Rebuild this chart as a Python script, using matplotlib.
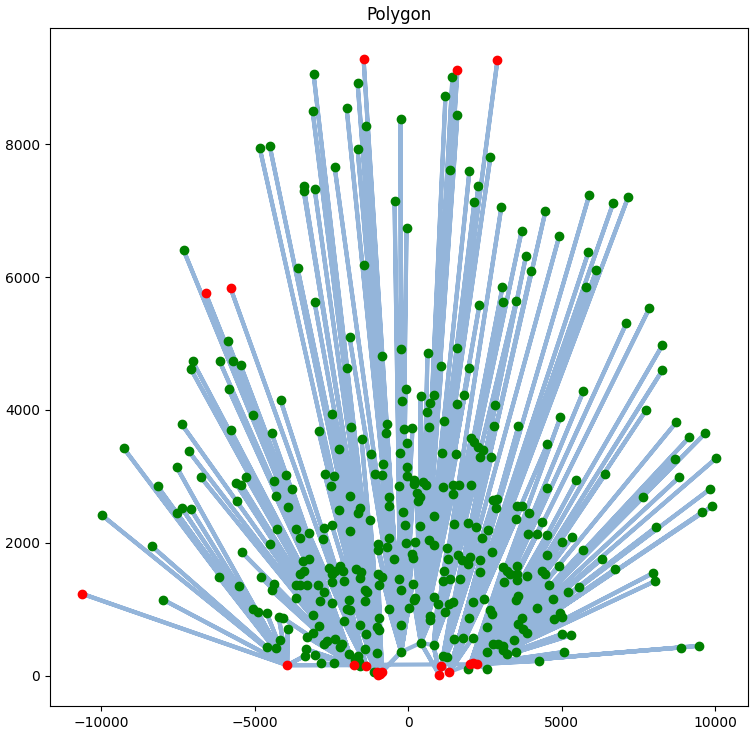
import numpy as np
import matplotlib.pyplot as plt

# vertices, grouped by where they sit (data units)
pts_top = [(-4843, 7952), (-4517, 7982), (-7318, 6403), (-3084, 9059), (-1651, 8929), (-3117, 8508),
           (-2009, 8553), (-1390, 8282), (-1651, 7937), (-2400, 7666), (-3410, 7370), (-3410, 7305),
           (-3052, 7335), (-251, 8387), (-446, 7154), (-55, 6748), (1443, 9018), (1215, 8733),
           (1606, 8448), (1378, 7620), (1997, 7605), (2681, 7816), (2290, 7380), (2160, 7139),
           (3039, 7064), (3700, 6703), (-1430, 6180), (3843, 6327), (4472, 6990), (4928, 6628),
           (5905, 7244), (5872, 6373), (6687, 7124), (7175, 7214)]

pts_left = [(-5885, 5034), (-7025, 4733), (-7090, 4622), (-6145, 4733), (-5722, 4742), (-5462, 4673),
            (-5852, 4312), (-4159, 4147), (-5071, 3921), (-5787, 3695), (-4452, 3650), (-7383, 3785),
            (-9273, 3424), (-7155, 3379), (-7546, 3139), (-6765, 2989), (-5287, 2989), (-5624, 2898),
            (-5439, 2873), (-8165, 2848), (-4387, 2928), (-3996, 3023), (-9989, 2417), (-7546, 2447),
            (-7383, 2522), (-7090, 2507), (-5592, 2622), (-4322, 2697), (-3931, 2537), (-8361, 1950),
            (-4289, 2206), (-4517, 1980), (-5429, 1860), (-6178, 1481), (-5527, 1346), (-4811, 1481),
            (-4387, 1384), (-4452, 1283), (-7990, 1143), (-5071, 1003), (-4908, 958), (-4615, 943),
            (-4224, 883), (-4094, 868), (-3931, 702), (-4192, 541), (-4615, 431), (-4322, 421)]

pts_center = [(-3605, 6132), (-3052, 5621), (-1912, 5094), (-870, 4808), (-251, 4914), (-2009, 4629),
              (629, 4857), (1085, 4659), (1606, 4929), (1997, 4629), (2322, 5585), (3071, 5846),
              (3104, 5621), (3517, 5636), (-87, 4312), (-186, 4136), (401, 4207), (706, 4101),
              (857, 4222), (597, 3966), (1606, 4086), (1834, 4222), (2843, 4071), (2811, 3755),
              (3593, 3755), (-2498, 3936), (-2922, 3680), (-1879, 3740), (-1521, 3560), (-707, 3790),
              (-739, 3650), (-153, 3710), (140, 3725), (694, 3740), (1182, 3830), (-23, 3500),
              (-283, 3350), (-2270, 3410), (-1228, 3335), (-837, 3184), (-1098, 3034), (-857, 3019),
              (-55, 3139), (-23, 3004), (205, 2944), (173, 2888), (498, 2913), (576, 2873),
              (1117, 3350), (1573, 3335), (2041, 3575), (2160, 3515), (2290, 3440), (2453, 3404),
              (2355, 3289), (2713, 3289), (-2726, 3034), (-2433, 3004), (-316, 2853), (1150, 2838),
              (1455, 2873), (1671, 2873), (2062, 2863), (-2531, 2853), (-3788, 2812)]

pts_right = [(4006, 6087), (6133, 6102), (5807, 5846), (7859, 5530), (7110, 5305), (8283, 4974),
             (8283, 4598), (5710, 4282), (7752, 3996), (4961, 3891), (8739, 3816), (9163, 3590),
             (9684, 3650), (8706, 3259), (10041, 3274), (4537, 3485), (8836, 2989), (6426, 3034),
             (5482, 2938), (4537, 2823), (9846, 2812), (7665, 2687), (9912, 2552), (9586, 2462),
             (8077, 2236), (3702, 2552), (3952, 2447), (4375, 2311), (3919, 2136), (4212, 2136),
             (4516, 2121), (5026, 2011), (5352, 2086), (5710, 1895), (4538, 1820), (6329, 1760),
             (6753, 1605), (4929, 1655), (3561, 1524), (3865, 1499), (4353, 1575), (4462, 1524),
             (4603, 1369), (5222, 1259), (5580, 1334), (7990, 1545), (8056, 1424), (4733, 1153),
             (4190, 1018), (3713, 868), (3756, 707), (3865, 642), (4951, 948), (5005, 883),
             (4755, 858), (3463, 532), (5026, 627), (5309, 607), (5092, 356), (4277, 221),
             (8892, 422), (9478, 447)]

pts_bottom = [(-1911, 2697), (-641, 2687), (-641, 2552), (282, 2748), (369, 2687), (304, 2627),
              (1455, 2738), (2780, 2647), (2888, 2662), (2866, 2527), (3540, 2547), (-2269, 2497),
              (-1585, 2527), (-1650, 2447), (-1238, 2347), (-174, 2467), (826, 2402), (1499, 2286),
              (1933, 2296), (2215, 2236), (2617, 2196), (3518, 2362), (-3648, 2211), (-3246, 2146),
              (-3539, 2076), (-2758, 2221), (-2486, 2261), (-2779, 2061), (-1889, 2181), (-641, 2076),
              (-119, 2271), (369, 2251), (-999, 1976), (-988, 1895), (-695, 1936), (-87, 1996),
              (206, 2011), (662, 2046), (826, 1971), (1260, 1920), (2410, 2076), (2736, 1860),
              (-478, 1760), (120, 1835), (141, 1770), (1607, 1820), (1281, 1760), (1748, 1735),
              (2020, 1785), (1933, 1675), (2345, 1735), (3084, 1635), (3214, 1575), (3322, 1535),
              (3561, 1645), (-3431, 1725), (-3246, 1755), (-3539, 1534), (-3409, 1575), (-2595, 1620),
              (-2378, 1575), (-2236, 1645), (-2128, 1575), (-2486, 1534), (-1694, 1610), (-1542, 1560),
              (-1563, 1474), (-999, 1534), (-858, 1484), (-966, 1359), (-315, 1459), (141, 1374),
              (-239, 1294), (1173, 1575), (1347, 1459), (1129, 1424), (1694, 1459), (2324, 1560),
              (3127, 1409), (3540, 1434), (-3648, 1359), (-3518, 1359), (-3300, 1359), (-2953, 1369),
              (-2758, 1259), (-2486, 1409), (-2106, 1424), (-1422, 1294), (-1346, 1259), (-3648, 1169),
              (-2866, 1123), (-2486, 1098), (-1943, 1143), (-1422, 1123), (-641, 1008), (11, 1023),
              (174, 1143), (228, 1174), (826, 1184), (956, 1083), (1205, 958), (1314, 1073),
              (1455, 1103), (2128, 1108), (2475, 1159), (2671, 983), (2725, 923), (3518, 1134),
              (3594, 1194), (-3116, 908), (-1998, 1008), (-1889, 993), (-2106, 818), (-966, 873),
              (-1585, 757), (-1020, 732), (-944, 682), (-239, 757), (695, 898), (717, 833),
              (1987, 873), (2584, 732), (3594, 782), (-3300, 582), (-3116, 647), (-2920, 742),
              (-2736, 472), (-2649, 522), (-2378, 557), (-2236, 432), (-2161, 472), (-1368, 632),
              (-1400, 402), (-1943, 331), (-1650, 301), (-1726, 231), (-1020, 341), (1499, 557),
              (1781, 572), (2107, 572), (2780, 482), (2943, 482), (3105, 442), (3084, 382),
              (2584, 356), (3214, 331), (3518, 356), (-3322, 397), (-3355, 301), (-3051, 306),
              (-2845, 181), (-2432, 181), (-1618, 206), (-1563, 141), (-1107, 56), (1129, 291),
              (1260, 281), (1933, 91), (2584, 91)]

# green vertices that some spikes come down to
green_base = [(-228, 356), (413, 492), (826, 457)]

# red vertices
red_tips = [(-10641, 1233), (-6601, 5756), (-5787, 5831), (-1455, 9290), (1606, 9124), (2910, 9275)]
red_base = [(-3940, 155), (-1780, 155), (-1368, 146), (-1020, 56), (-935, 30), (-1000, 5), (-857, 56),
            (1020, 5), (1075, 140), (1345, 56), (2019, 170), (2128, 196), (2257, 170)]

FOOT_Y = -2000.0


def pick_base(x, y, cands):
    # spikes lean towards a point below the middle of the base
    fx = x * -FOOT_Y / (y - FOOT_Y)
    return min(cands, key=lambda b: abs(b[0] - fx))


green = pts_top + pts_left + pts_center + pts_right + pts_bottom

spikes = []
for p in green + red_tips:
    spikes.append((p, pick_base(p[0], p[1], red_base + green_base)))
for p in green_base:
    spikes.append((p, pick_base(p[0], p[1], red_base)))
spikes.sort(key=lambda s: -np.arctan2(s[0][1] - FOOT_Y, s[0][0]))

poly_x, poly_y = [], []
for tip, base in spikes:
    poly_x += [base[0], tip[0], base[0]]
    poly_y += [base[1], tip[1], base[1]]
poly_x.append(poly_x[0])
poly_y.append(poly_y[0])

fig, ax = plt.subplots(figsize=(7.56, 7.38), dpi=100)
fig.subplots_adjust(left=50 / 756, right=748 / 756, top=1 - 28 / 738, bottom=1 - 706 / 738)

ax.plot(poly_x, poly_y, color='#94b5da', lw=3, zorder=1)

gx = [p[0] for p in green + green_base]
gy = [p[1] for p in green + green_base]
ax.plot(gx, gy, 'o', color='green', ms=6, zorder=2)

rx = [p[0] for p in red_tips + red_base]
ry = [p[1] for p in red_tips + red_base]
ax.plot(rx, ry, 'o', color='red', ms=6, zorder=3)

ax.set_title("Polygon")
plt.savefig("out.png")
plt.close(fig)
